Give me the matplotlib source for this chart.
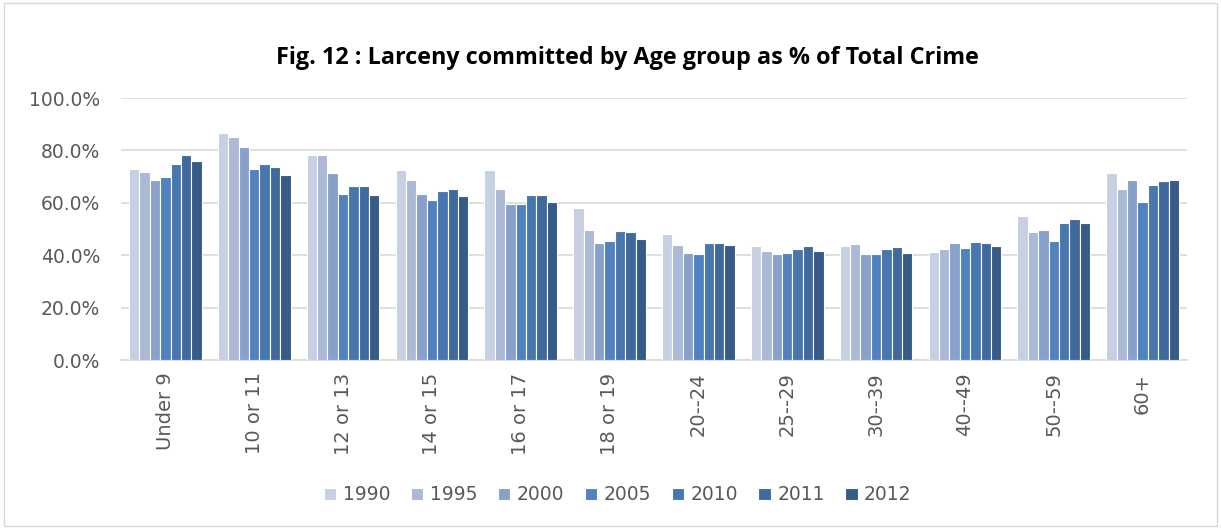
import matplotlib.pyplot as plt
import numpy as np

age_groups = ['Under 9', '10 or 11', '12 or 13', '14 or 15', '16 or 17', '18 or 19',
              '20--24', '25--29', '30--39', '40--49', '50--59', '60+']
years = ['1990', '1995', '2000', '2005', '2010', '2011', '2012']

# % of total crime, one list per year
y1990 = [72.9, 86.5, 78.2, 72.4, 72.4, 57.9, 48.0, 43.5, 43.5, 41.2, 55.0, 71.4]
y1995 = [71.8, 85.0, 78.1, 68.7, 65.3, 49.6, 43.9, 41.6, 44.1, 42.4, 48.7, 65.3]
y2000 = [68.7, 81.3, 71.5, 63.5, 59.7, 44.5, 40.7, 40.5, 40.5, 44.8, 49.6, 68.6]
y2005 = [69.7, 72.9, 63.2, 61.2, 59.7, 45.4, 40.5, 40.7, 40.5, 42.7, 45.5, 60.2]
y2010 = [74.7, 74.9, 66.3, 64.4, 62.8, 49.1, 44.5, 42.2, 42.2, 45.0, 52.3, 66.9]
y2011 = [78.2, 73.5, 66.3, 65.1, 62.8, 48.9, 44.5, 43.5, 43.0, 44.5, 53.7, 68.2]
y2012 = [76.0, 70.5, 63.0, 62.5, 60.2, 46.2, 43.8, 41.6, 40.7, 43.6, 52.3, 68.7]
series = [y1990, y1995, y2000, y2005, y2010, y2011, y2012]

colors = ['#c6d0e2', '#abb9d7', '#87a1cb', '#5182bf', '#4877ae', '#406a9e', '#375b87']
txt = '#595959'

fig = plt.figure(figsize=(12.21, 5.29), dpi=100)
ax = fig.add_axes([121 / 1221, 1 - 360 / 529, (1187 - 121) / 1221, (360 - 98) / 529])

x = np.arange(len(age_groups))
slot = 0.117
for i, vals in enumerate(series):
    ax.bar(x + (i - 3) * slot, vals, width=slot, color=colors[i],
           edgecolor='white', linewidth=0.8, label=years[i], zorder=3)

ax.set_xlim(-0.5, len(age_groups) - 0.5)
ax.set_ylim(0, 100)
ax.set_yticks(np.arange(0, 101, 20))
ax.set_yticklabels(['%.1f%%' % v for v in np.arange(0, 101, 20)], fontsize=13.5, color=txt)
ax.set_xticks(x)
ax.set_xticklabels(age_groups, rotation=90, fontsize=14, color=txt)
ax.tick_params(axis='y', length=0, pad=15)
ax.tick_params(axis='x', length=0, pad=9)
ax.yaxis.grid(True, color='#d9d9d9', linewidth=1.2, zorder=0)
for s in ['top', 'right', 'left']:
    ax.spines[s].set_visible(False)
ax.spines['bottom'].set_color('#d9d9d9')
ax.spines['bottom'].set_linewidth(1.2)

fig.text(0.514, 1 - 58 / 529, 'Fig. 12 : Larceny committed by Age group as % of Total Crime',
         ha='center', va='center', fontsize=16.8, fontweight='bold', family='Open Sans')

fig.legend(loc='center', bbox_to_anchor=(0.506, 1 - 495 / 529), ncol=7, frameon=False,
           fontsize=13.5, handlelength=0.65, handleheight=0.65, columnspacing=1.1,
           handletextpad=0.35, labelcolor=txt)

fig.patches.append(plt.Rectangle((4 / 1221, 3 / 529), 1213 / 1221, 523 / 529,
                                 transform=fig.transFigure, fill=False,
                                 edgecolor='#d9d9d9', linewidth=1))

plt.savefig('out.png', dpi=100)
